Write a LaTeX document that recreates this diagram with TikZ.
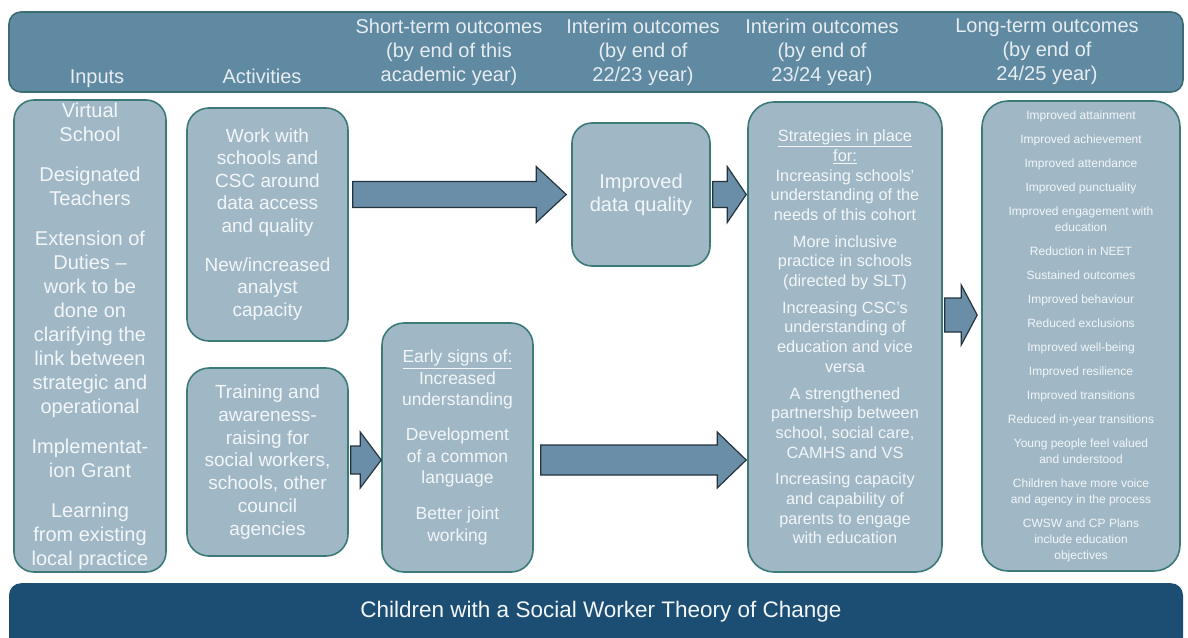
\documentclass[tikz,border=0pt]{standalone}
\usepackage{fontspec}
\setmainfont{Liberation Sans}
\usetikzlibrary{calc}
\definecolor{hdrfill}{HTML}{6089A2}
\definecolor{hdrline}{HTML}{3B6D72}
\definecolor{hdrtxt}{HTML}{E6EDF1}
\definecolor{boxfill}{HTML}{A0B8C6}
\definecolor{boxline}{HTML}{3C7A78}
\definecolor{arrfill}{HTML}{6A8EA8}
\definecolor{arrline}{HTML}{24343D}
\definecolor{barfill}{HTML}{1C4E73}
\definecolor{txt}{HTML}{F2F6F8}
\newcommand\fs[2]{\fontsize{#1}{#2}\selectfont}
\newcommand\blockarrow[5]{%
  \draw[blockarr] let \p1=(#1), \p2=(#2) in
    (\x1,\y1+#3) -- (\x2-#5,\y1+#3) -- (\x2-#5,\y1+#4) -- (\x2,\y1)
    -- (\x2-#5,\y1-#4) -- (\x2-#5,\y1-#3) -- (\x1,\y1-#3) -- cycle;}
\begin{document}
\begin{tikzpicture}[x=1pt,y=-1pt,
  box/.style={draw=boxline, fill=boxfill, line width=1.6pt, rounded corners=20pt,
    text=txt, align=center, inner sep=0pt},
  hdrtext/.style={text=hdrtxt, align=center, inner sep=0pt, font=\fs{20}{24}},
  blockarr/.style={draw=arrline, fill=arrfill, line width=1.2pt, line join=miter}]
\useasboundingbox (0,0) rectangle (1188,637);
\clip (0,0) rectangle (1188,637);
\fill[white] (0,0) rectangle (1188,637);

% header
\node[draw=hdrline, fill=hdrfill, line width=1.6pt, rounded corners=12pt,
  minimum width=1174pt, minimum height=80pt, inner sep=0pt] (header) at (596,52) {};
\node[hdrtext, anchor=base] (hin) at (97,83) {Inputs};
\node[hdrtext, anchor=base] (hact) at (262,83) {Activities};
\node[hdrtext] (hst) at (449,52) {Short-term outcomes\\(by end of this\\academic year)};
\node[hdrtext] (hi1) at (643,52) {Interim outcomes\\(by end of\\22/23 year)};
\node[hdrtext] (hi2) at (822,52) {Interim outcomes\\(by end of\\23/24 year)};
\node[hdrtext] (hlt) at (1047,52) {Long-term outcomes\\(by end of\\24/25 year)};

% boxes
\node[box, minimum width=152pt, minimum height=472pt, font=\fs{20}{24}] (inputs) at (90,336)
 {Virtual\\School\\[16pt]Designated\\Teachers\\[16pt]Extension of\\Duties --\\work to be\\done on\\clarifying the\\link between\\strategic and\\operational\\[16pt]Implementat-\\ion Grant\\[16pt]Learning\\from existing\\local practice};
\node[box, rounded corners=22pt, minimum width=161pt, minimum height=233pt, font=\fs{19}{22.5}] (act1) at (267.5,224.5)
 {Work with\\schools and\\CSC around\\data access\\and quality\\[16.5pt]New/increased\\analyst\\capacity};
\node[box, rounded corners=22pt, minimum width=161pt, minimum height=188pt, font=\fs{19}{22.8}] (act2) at (267.5,462)
 {Training and\\awareness-\\raising for\\social workers,\\schools, other\\council\\agencies};
\node[box, minimum width=138pt, minimum height=143pt, font=\fs{20}{23}] (dq) at (641,194.5)
 {Improved\\data quality};
\node[box, rounded corners=22pt, minimum width=151pt, minimum height=249pt, font=\fs{17.5}{21.5}] (early) at (457.5,447.5)
 {\underline{Early signs of:}\\Increased\\understanding\\[13.5pt]Development\\of a common\\language\\[14.5pt]Better joint\\working};
\node[box, rounded corners=26pt, minimum width=194pt, minimum height=470pt, font=\fs{16.3}{19.7}] (strat) at (845,337)
 {\underline{Strategies in place}\\\underline{for:}\\Increasing schools'\\understanding  of the\\needs of this cohort\\[7pt]More inclusive\\practice in schools\\(directed by SLT)\\[7pt]Increasing CSC's\\understanding  of\\education and vice\\versa\\[7pt]A strengthened\\partnership between\\school, social care,\\CAMHS and VS\\[7pt]Increasing capacity\\and capability of\\parents to engage\\with education};
\node[box, rounded corners=26pt, minimum width=198pt, minimum height=470pt, font=\fs{12}{16}] (long) at (1081,336)
 {Improved attainment\\[8pt]Improved achievement\\[8pt]Improved attendance\\[8pt]Improved punctuality\\[8pt]Improved engagement with\\education\\[8pt]Reduction in NEET\\[8pt]Sustained outcomes\\[8pt]Improved behaviour\\[8pt]Reduced exclusions\\[8pt]Improved well-being\\[8pt]Improved resilience\\[8pt]Improved transitions\\[8pt]Reduced in-year transitions\\[8pt]Young people feel valued\\and understood\\[8pt]Children have more voice\\and agency in the process\\[8pt]CWSW and CP Plans\\include education\\objectives};

% bottom bar
\node[fill=barfill, rounded corners=12pt, minimum width=1174pt, minimum height=80pt,
  inner sep=0pt, anchor=north] (bar) at (596,583) {};
\node[text=txt, font=\fs{22.5}{26}, inner sep=0pt] (title) at (601,612)
 {Children with a Social Worker Theory of Change};

% arrows
\coordinate (a1s) at ($(act1.east |- dq.west)+(4,0)$);
\coordinate (a1t) at ($(dq.west)+(-5,0)$);
\blockarrow{a1s}{a1t}{13}{28}{30}
\coordinate (a2s) at ($(dq.east)+(2,0)$);
\coordinate (a2t) at ($(strat.west |- dq.east)+(-1,0)$);
\blockarrow{a2s}{a2t}{13}{28}{19}
\coordinate (a3s) at ($(act2.east)+(2,-2)$);
\coordinate (a3t) at (early.west |- a3s);
\blockarrow{a3s}{a3t}{14}{28}{21}
\coordinate (a4s) at ($(early.east |- a3s)+(7,0)$);
\coordinate (a4t) at ($(strat.west |- a3s)+(-1,0)$);
\blockarrow{a4s}{a4t}{15}{28}{29}
\coordinate (a5s) at ($(strat.east)+(2,-22)$);
\coordinate (a5t) at ($(long.west |- a5s)+(-4,0)$);
\blockarrow{a5s}{a5t}{17}{30}{16}
\end{tikzpicture}
\end{document}
